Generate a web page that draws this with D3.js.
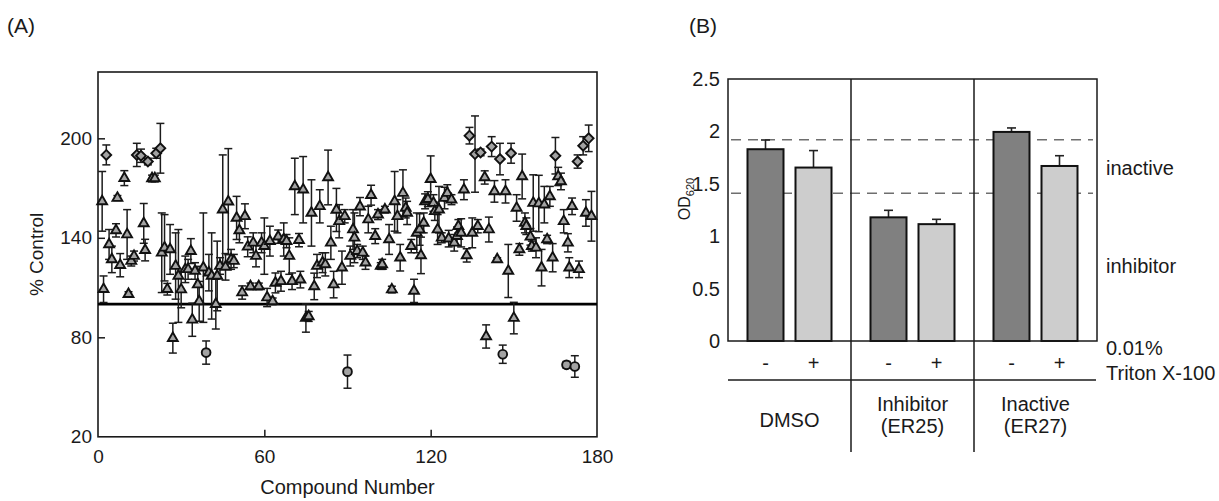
<!DOCTYPE html>
<html>
<head>
<meta charset="utf-8">
<script src="https://cdn.jsdelivr.net/npm/d3@7"></script>
<style>
  html, body { margin: 0; padding: 0; background: #fff; }
  svg { display: block; font-family: "Liberation Sans", Arial, Helvetica, sans-serif; }
</style>
</head>
<body>
<svg id="chart" width="1219" height="501"></svg>
<script>
// ---------------- Panel A data ----------------
const compound = [1.5,2,3,4,5,6.5,7,8,9.5,10.5,11,12,13,14,15.5,16.5,17,18,19.5,20.5,21,22.5,23,24,25,26,27,28,29,30,31.5,32.5,33.5,34,35,36,36.5,38,39,40,41,42.5,43,44,45,46,47,48,49,50,51,52,53,54,55,56,57,58,59,60,61,62,63,64,65,66,67,68,69,70,71,72.5,73,74,75,76,77,78,79,80,81,82,83,84,85,86,87,88,89,90,91,92,92.5,93.5,94.5,95.5,96.5,97.5,98.5,100,101,102,102.5,103.5,105,106,107,108,109,110,111,111.5,113,114,115,116,116.5,117.5,118,119,120,121,121.5,122.5,123,124,125,126,126.5,127.5,128.5,129.5,130,131,132,133,134,135,136,137,138,139.5,140,141,142,143,144,145,146,147,148,149,150,151,152,153,154,154.5,156,156.5,157,158,159,160,161,162,163,164,165,166,167,168,169,169.5,170,171,172,173,173.5,175,176,177,178];
const pctControl = [162,109,190,136,127,144.5,164,123.5,176,142,106,126,129,190,189.5,148.7,132.6,186,175.8,175.8,191,194,131,134,109,133,79.5,123,117,108.8,121,121,132,90.6,120,111.8,101.7,122,70.8,119,117,100,117,123,157,122.5,161.8,127,126,152,144.5,107,153,134.6,110.7,137,129,110.7,137,135,104,138,101.7,112.8,140.7,113.8,139,138,129,113.8,171,138.6,114.8,169,91.6,92.6,155,110.7,123,159,125,124,176.4,137,111.8,156.8,150,122,153,59.3,129,145,140,132,158.8,131,125,151,165.7,141,154,123,124,157,139,108.8,162,153,128,167,158,155,135,108,143,145,129.4,149,162,163.3,175.4,161,156,145,157,140,164,167,139.5,163,137,141,147,143,169,129.4,201.6,143,190.5,147,191.5,176.4,80.5,145,195,168,127,187.5,69.8,168,120,191,91.6,158,133,177,149,147,140.6,135,161,134,160.7,122,160,139,165,128,189.5,177,174,150,63.4,137,122,159,62.4,186,121,195.5,155,200,153];
const errorA = [18,8,6,9,8,4,1.5,7,4.5,15,1.5,3,3,7,4,12,6.5,2,2,2,3,15,24,20,3.5,15,9,20,28,11,8,6,7.5,10,5,11,12,33,7,11,26,15,21,5,33,8,32,6,4,13,7.5,4,7.5,6,2,6,6.5,2,6,17,5.5,9,2,6,4,6,10,4,11,5,17,4,5,20,8.5,3,20,8,7,10,6,7,16.5,10,8,13,10,10,4,10,6,12,15,4,5.5,4,4,8,6,4.5,3,2,3,2,9,2,18,10,8,14,6,7,4,7,12,9.5,11,6,4.5,4.5,14,5,5.5,9,14,3,6.5,5,5,3,5,5.5,4,8.5,6,4,5,9,23,4,2,4,7,7.5,6,6.5,1,9.5,5.5,7,16,6,9.5,8,3.5,13.5,6,5,5,3,17,6,17,11,11,2.5,6,8.5,11,5.5,5,7,2,5.5,6,5,6.5,4,5,5.5,8,8,15];
// compounds drawn with diamond / circle markers (all others are triangles)
const diamondCompounds = [3,14,15.5,18,21,22.5,134,136,138,142,145,149,165,173,175,177];
const circleCompounds = [39,90,146,169,172];
const xTicksA = [0, 60, 120, 180];
const yTicksA = [20, 80, 140, 200];
const referenceLevel = 100;

// ---------------- Panel B data ----------------
const treatments = ["DMSO", "Inhibitor (ER25)", "Inactive (ER27)"];
const tritonLevels = ["-", "+"];
const odNoTriton = [1.83, 1.18, 1.995];
const odTriton = [1.655, 1.115, 1.67];
const errNoTriton = [0.088, 0.067, 0.038];
const errTriton = [0.162, 0.046, 0.098];
const thresholds = [1.92, 1.41];
const yTicksB = [0, 0.5, 1, 1.5, 2, 2.5];
const yTickLabelsB = ["0", "0.5", "1", "1.5", "2", "2.5"];

const svg = d3.select("#chart");
svg.append("rect").attr("width", 1219).attr("height", 501).attr("fill", "#fff");
const ink = "#1a1a1a";

// ================= Panel A =================
const xA = d3.scaleLinear().domain([0, 180]).range([98, 597]);
const yA = d3.scaleLinear().domain([20, 240]).range([436.8, 72]);
const gA = svg.append("g");

gA.append("text").attr("x", 7).attr("y", 33).attr("font-size", 21).attr("fill", ink).text("(A)");

const axB = gA.append("g").attr("transform", `translate(0,${yA(20)})`)
  .call(d3.axisBottom(xA).tickValues(xTicksA).tickSize(-7).tickPadding(13).tickFormat(d3.format("d")));
const axL = gA.append("g").attr("transform", `translate(${xA(0)},0)`)
  .call(d3.axisLeft(yA).tickValues(yTicksA).tickSize(-7).tickPadding(6).tickFormat(d3.format("d")));
[axB, axL].forEach(a => {
  a.select(".domain").remove();
  a.selectAll("line").attr("stroke", ink).attr("stroke-width", 1.5);
  a.selectAll("text").attr("font-size", 19).attr("fill", ink).attr("font-family", null);
});
axB.selectAll(".tick line").filter(d => d === 0 || d === 180).remove();
axL.selectAll(".tick line").filter(d => d === 20).remove();

gA.append("rect").attr("x", xA(0)).attr("y", yA(240))
  .attr("width", xA(180) - xA(0)).attr("height", yA(20) - yA(240))
  .attr("fill", "none").attr("stroke", ink).attr("stroke-width", 1.6);

gA.append("line").attr("x1", xA(0)).attr("x2", xA(180))
  .attr("y1", yA(referenceLevel)).attr("y2", yA(referenceLevel))
  .attr("stroke", "#000").attr("stroke-width", 2.8);

const ptsA = compound.map((c, i) => ({
  c, v: pctControl[i], e: errorA[i],
  m: diamondCompounds.includes(c) ? "d" : circleCompounds.includes(c) ? "o" : "t"
}));
const eb = gA.append("g").attr("stroke", "#1c1c1c").attr("stroke-width", 1.5);
ptsA.forEach(d => {
  const x = xA(d.c), y1 = yA(d.v + d.e), y0 = yA(d.v - d.e);
  eb.append("line").attr("x1", x).attr("x2", x).attr("y1", y1).attr("y2", y0);
  eb.append("line").attr("x1", x - 4).attr("x2", x + 4).attr("y1", y1).attr("y2", y1);
  eb.append("line").attr("x1", x - 4).attr("x2", x + 4).attr("y1", y0).attr("y2", y0);
});
const sym = {
  t: d3.symbol(d3.symbolTriangle, 42)(),
  d: d3.symbol(d3.symbolSquare, 48)(),
  o: d3.symbol(d3.symbolCircle, 60)()
};
gA.append("g").selectAll("path").data(ptsA).join("path")
  .attr("d", d => sym[d.m])
  .attr("transform", d => `translate(${xA(d.c)},${yA(d.v)})` + (d.m === "d" ? " rotate(45)" : ""))
  .attr("fill", "#a3a3a3").attr("stroke", "#111").attr("stroke-width", 1.9);

gA.append("text").attr("x", (xA(0) + xA(180)) / 2).attr("y", 494).attr("text-anchor", "middle")
  .attr("font-size", 20).attr("fill", ink).text("Compound Number");
gA.append("text").attr("transform", `translate(43,${(yA(20) + yA(240)) / 2 + 0}) rotate(-90)`)
  .attr("text-anchor", "middle").attr("font-size", 19).attr("fill", ink).text("% Control");

// ================= Panel B =================
const gB = svg.append("g");
const yB = d3.scaleLinear().domain([0, 2.5]).range([341, 79]);
const xG = d3.scaleBand().domain(treatments).range([728, 1097]);
const xS = d3.scaleBand().domain(tritonLevels).range([19.5, xG.bandwidth() - 19.5]).paddingInner(0.25);

gB.append("text").attr("x", 689).attr("y", 33).attr("font-size", 21).attr("fill", ink).text("(B)");

const axLB = gB.append("g").attr("transform", `translate(728,0)`)
  .call(d3.axisLeft(yB).tickValues(yTicksB).tickSize(0).tickPadding(8).tickFormat((d, i) => yTickLabelsB[i]));
axLB.select(".domain").remove();
axLB.selectAll("text").attr("font-size", 20).attr("fill", ink).attr("font-family", null);

// threshold dashed lines
gB.selectAll("line.thr").data(thresholds).join("line").attr("class", "thr")
  .attr("x1", 731).attr("x2", 1093).attr("y1", d => yB(d)).attr("y2", d => yB(d))
  .attr("stroke", "#6e6e6e").attr("stroke-width", 1.5).attr("stroke-dasharray", "10,7");

// bars
const barsB = [];
treatments.forEach((t, i) => {
  barsB.push({ t, s: "-", v: odNoTriton[i], e: errNoTriton[i] });
  barsB.push({ t, s: "+", v: odTriton[i], e: errTriton[i] });
});
const bx = d => xG(d.t) + xS(d.s);
const bg = gB.append("g");
bg.selectAll("line.err").data(barsB).join("line").attr("class", "err")
  .attr("x1", d => bx(d) + xS.bandwidth() / 2).attr("x2", d => bx(d) + xS.bandwidth() / 2)
  .attr("y1", d => yB(d.v)).attr("y2", d => yB(d.v + d.e)).attr("stroke", "#222").attr("stroke-width", 1.6);
bg.selectAll("line.cap").data(barsB).join("line").attr("class", "cap")
  .attr("x1", d => bx(d) + xS.bandwidth() / 2 - 4.5).attr("x2", d => bx(d) + xS.bandwidth() / 2 + 4.5)
  .attr("y1", d => yB(d.v + d.e)).attr("y2", d => yB(d.v + d.e)).attr("stroke", "#222").attr("stroke-width", 1.6);
bg.selectAll("rect").data(barsB).join("rect")
  .attr("x", bx).attr("width", xS.bandwidth())
  .attr("y", d => yB(d.v)).attr("height", d => yB(0) - yB(d.v))
  .attr("fill", d => d.s === "-" ? "#808080" : "#cdcdcd")
  .attr("stroke", "#111").attr("stroke-width", 2);

// frame
gB.append("rect").attr("x", 728).attr("y", yB(2.5)).attr("width", 1097 - 728).attr("height", yB(0) - yB(2.5))
  .attr("fill", "none").attr("stroke", ink).attr("stroke-width", 1.5);
// separators
treatments.slice(1).forEach(t => {
  gB.append("line").attr("x1", xG(t)).attr("x2", xG(t)).attr("y1", yB(2.5)).attr("y2", 452)
    .attr("stroke", ink).attr("stroke-width", 1.5);
});
gB.append("line").attr("x1", 728).attr("x2", 1096).attr("y1", 380).attr("y2", 380)
  .attr("stroke", ink).attr("stroke-width", 1.5);

// -/+ labels
gB.selectAll("text.pm").data(barsB).join("text").attr("class", "pm")
  .attr("x", d => bx(d) + xS.bandwidth() / 2).attr("y", 370).attr("text-anchor", "middle")
  .attr("font-size", 20).attr("fill", ink).text(d => d.s);

// group labels
treatments.forEach(t => {
  const cx = xG(t) + xG.bandwidth() / 2;
  const parts = t.split(" ");
  if (parts.length === 1) {
    gB.append("text").attr("x", cx).attr("y", 427).attr("text-anchor", "middle")
      .attr("font-size", 20).attr("fill", ink).text(parts[0]);
  } else {
    gB.append("text").attr("x", cx).attr("y", 411).attr("text-anchor", "middle")
      .attr("font-size", 20).attr("fill", ink).text(parts[0]);
    gB.append("text").attr("x", cx).attr("y", 433).attr("text-anchor", "middle")
      .attr("font-size", 20).attr("fill", ink).text(parts[1]);
  }
});

// right-hand labels
[["inactive", 175], ["inhibitor", 273], ["0.01%", 355], ["Triton X-100", 380]].forEach(([s, y]) => {
  gB.append("text").attr("x", 1106).attr("y", y).attr("font-size", 20).attr("fill", ink).text(s);
});

// y-axis title OD620
const od = gB.append("text").attr("transform", `translate(690,199) rotate(-90)`)
  .attr("text-anchor", "middle").attr("font-size", 16).attr("fill", ink);
od.append("tspan").text("OD");
od.append("tspan").attr("font-size", 11).attr("dy", 4).text("620");
</script>
</body>
</html>
